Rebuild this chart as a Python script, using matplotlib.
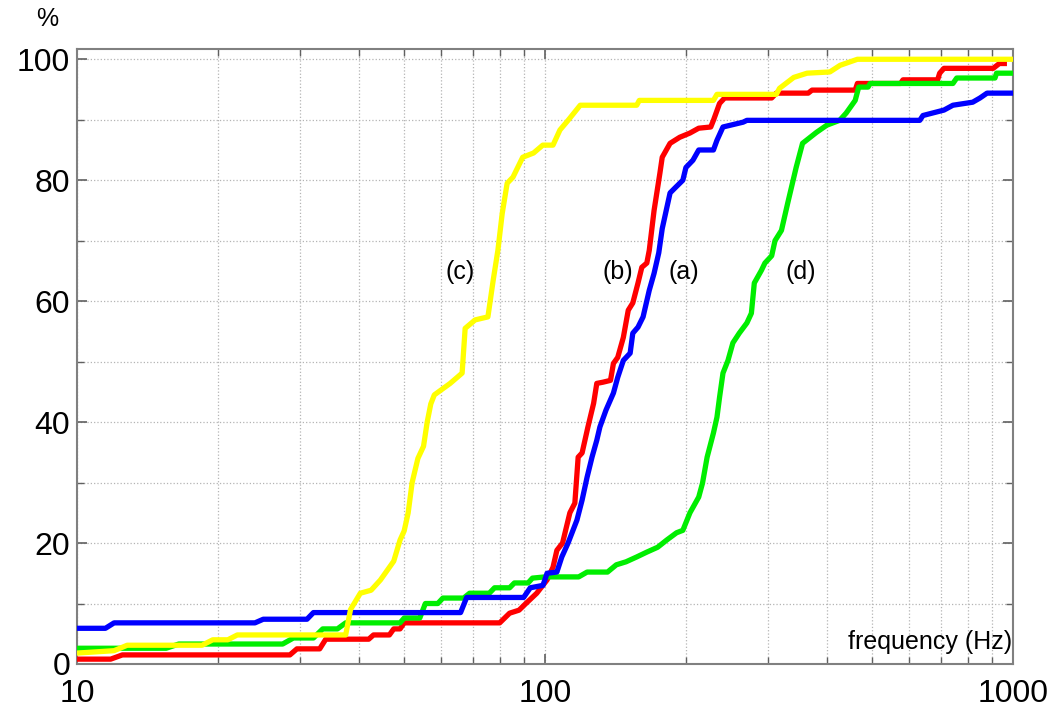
import numpy as np
import matplotlib
matplotlib.use("Agg")
import matplotlib.pyplot as plt
from matplotlib.ticker import FixedLocator, NullFormatter

plt.rcParams['font.family'] = ['Liberation Sans', 'DejaVu Sans']

# (a) blue
freq_a = [10, 11.5, 12, 24, 25, 31, 32, 66, 68, 90, 93, 99, 101, 106, 108.6, 112, 117, 120, 123, 126,
          129, 131, 135, 140, 143, 147, 152, 154, 158, 162, 167, 171, 175, 178, 185, 190, 197, 200, 207,
          213, 229, 233, 240, 265, 270, 632, 642, 712, 744, 820, 850, 880, 1000]
pct_a = [5.9, 5.9, 6.8, 6.8, 7.4, 7.4, 8.5, 8.5, 11.0, 11.0, 12.6, 13.0, 15.0, 15.2, 17.7, 20.0, 23.8, 27.1, 30.9, 34.2,
         37.0, 39.2, 42.0, 44.8, 47.4, 50.2, 51.4, 54.7, 55.7, 57.4, 61.8, 64.6, 68.0, 72.0, 77.9, 78.8, 80.0, 82.1, 83.3,
         85.0, 85.0, 86.6, 88.8, 89.6, 89.9, 89.9, 90.7, 91.6, 92.4, 92.9, 93.6, 94.4, 94.4]

# (b) red
freq_b = [10, 11.8, 12.5, 28.5, 29.5, 33, 34, 42, 43, 46.5, 47.5, 49, 50, 80, 84, 88, 91, 96, 101, 104,
          106, 109, 113, 115.8, 117.7, 120, 123.5, 127, 129, 133, 138, 140, 143, 147, 150.6, 154, 158, 161,
          165, 167, 171, 176, 178, 185, 194, 204, 213, 226, 229, 236, 242, 305, 312, 365, 372, 460, 465,
          575, 582, 690, 697, 712, 907, 935, 958]
pct_b = [0.8, 0.8, 1.5, 1.5, 2.5, 2.5, 4.1, 4.1, 4.8, 4.8, 5.8, 5.8, 6.8, 6.8, 8.4, 8.9, 10.0, 11.7, 13.9, 16.0,
         18.8, 20.0, 25.0, 26.6, 34.2, 34.9, 39.2, 43.1, 46.4, 46.6, 46.9, 49.7, 50.7, 54.0, 58.5, 59.7, 63.0, 65.6,
         66.3, 68.4, 75.0, 81.2, 83.8, 86.1, 87.1, 87.8, 88.6, 88.8, 89.9, 92.7, 93.6, 93.6, 94.4, 94.4, 94.9, 94.9, 96.0,
         96.0, 96.6, 96.6, 97.7, 98.5, 98.5, 99.3, 99.3]

# (c) yellow
freq_c = [10, 12, 12.8, 18.5, 19.5, 21, 22, 37.5, 38.4, 40.3, 42.5, 44.5, 47.5, 49, 50, 51, 52, 53.5, 55,
          56, 57, 58, 62.7, 66.5, 67.5, 70.9, 75.5, 77.5, 79.3, 81, 83, 85.4, 89.6, 94.5, 98.9, 104, 107.6,
          112, 118.9, 157, 159, 229, 233, 312, 317, 340, 363, 406, 427, 465, 1000]
pct_c = [1.8, 2.2, 3.1, 3.1, 4.0, 4.0, 4.8, 4.8, 9.0, 11.7, 12.2, 13.9, 17.0, 20.5, 22.0, 25.0, 30.0, 34.0, 36.0,
         40.0, 43.0, 44.5, 46.4, 48.1, 55.5, 56.9, 57.4, 63.5, 68.4, 74.5, 79.5, 80.5, 83.8, 84.5, 85.8, 85.8, 88.3,
         89.9, 92.4, 92.4, 93.2, 93.2, 94.2, 94.2, 95.2, 97.0, 97.7, 97.9, 99.0, 100.0, 100.0]

# (d) green
freq_d = [10, 15.5, 16.5, 27.5, 29, 32, 33.5, 36, 37.5, 49, 50, 54, 55.5, 59, 60.5, 67, 69, 76, 78, 84,
          86, 92, 94, 100, 118, 123, 136, 142, 149, 157, 165, 174, 182, 191, 197, 204, 213, 217, 222, 229,
          233, 236, 240, 246, 252, 260, 270, 276, 280, 290, 295, 305, 310, 320, 330, 344, 355, 380, 400,
          426, 440, 460, 468, 490, 495, 744, 758, 915, 922, 1000]
pct_d = [2.6, 2.6, 3.3, 3.3, 4.3, 4.3, 5.8, 5.8, 6.8, 6.8, 7.6, 7.6, 10.0, 10.0, 10.9, 10.9, 11.7, 11.7, 12.6, 12.6,
         13.4, 13.4, 14.2, 14.4, 14.4, 15.2, 15.2, 16.4, 16.9, 17.7, 18.5, 19.3, 20.5, 21.7, 22.1, 25.0, 27.6, 29.9, 34.2, 38.2,
         40.8, 44.1, 48.1, 50.2, 53.1, 54.7, 56.4, 58.0, 63.0, 65.1, 66.3, 67.5, 70.0, 71.7, 76.2, 82.1, 86.1, 87.9, 89.1,
         89.9, 91.1, 93.2, 95.4, 95.4, 96.0, 96.0, 96.9, 96.9, 97.7, 97.7]

curve_labels = ['(c)', '(b)', '(a)', '(d)']
label_freq = [65.7, 143, 197.7, 352]
label_pct = [64.8, 64.8, 64.8, 64.8]

fig = plt.figure(figsize=(10.64, 7.09), dpi=100)
ax = fig.add_axes([0.0724, 0.0635, 0.8797, 0.8674])

lw = 3.8
ax.plot(freq_b, pct_b, color='#ff0000', lw=lw, zorder=3)
ax.plot(freq_d, pct_d, color='#00ee00', lw=lw, zorder=4)
ax.plot(freq_a, pct_a, color='#0000ff', lw=lw, zorder=5)
ax.plot(freq_c, pct_c, color='#ffff00', lw=lw, zorder=6)

ax.set_xscale('log')
ax.set_xlim(10, 1000)
ax.set_ylim(0, 101.7)

ax.xaxis.set_major_locator(FixedLocator([10, 100, 1000]))
ax.set_xticklabels(['10', '100', '1000'])
minor_x = [m * d for d in (10, 100) for m in range(2, 10)]
ax.xaxis.set_minor_locator(FixedLocator(minor_x))
ax.xaxis.set_minor_formatter(NullFormatter())
ax.yaxis.set_major_locator(FixedLocator(list(range(0, 101, 20))))
ax.yaxis.set_minor_locator(FixedLocator(list(range(10, 100, 20))))

ax.grid(True, which='both', color='#b4b4b4', linestyle=':', linewidth=0.9)
ax.set_axisbelow(True)

ax.tick_params(which='both', direction='in', top=True, right=True, color='#606060')
ax.tick_params(which='major', length=7, width=1.2, labelsize=23)
ax.tick_params(which='minor', length=5, width=1.0)
ax.tick_params(axis='x', which='major', pad=11)
ax.tick_params(axis='y', which='major', pad=5)
for s in ax.spines.values():
    s.set_color('#808080')
    s.set_linewidth(1.5)

for lab, f, p in zip(curve_labels, label_freq, label_pct):
    ax.text(f, p, lab, fontsize=18, ha='center', va='center', zorder=7)

ax.text(0.999, 3.6, 'frequency (Hz)', transform=ax.get_yaxis_transform(), fontsize=18,
        ha='right', va='center', zorder=7)
fig.text(47 / 1064, 1 - 19 / 709, '%', fontsize=18, ha='center', va='center')

fig.savefig('out.png', dpi=100)
